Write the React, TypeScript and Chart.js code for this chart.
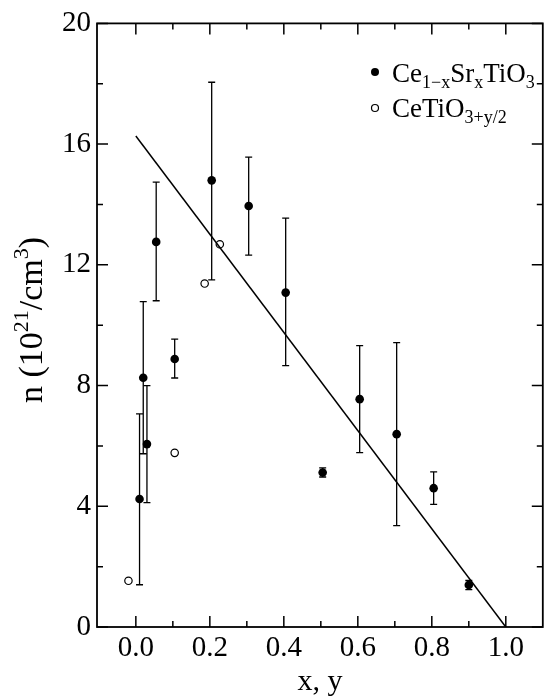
import React, { useEffect, useRef } from "react";
import { Chart, registerables } from "chart.js";

Chart.register(...registerables);

// Ce(1-x)Sr(x)TiO3 : filled circles with error bars
const SR_X = [0.01, 0.02, 0.03, 0.055, 0.105, 0.205, 0.305, 0.405, 0.505, 0.605, 0.705, 0.805, 0.9];
const SR_N = [4.24, 8.26, 6.06, 12.76, 8.88, 14.8, 13.95, 11.08, 5.12, 7.55, 6.39, 4.6, 1.39];
const SR_HI = [7.06, 10.78, 8.0, 14.74, 9.54, 18.05, 15.57, 13.55, 5.27, 9.32, 9.42, 5.14, 1.54];
const SR_LO = [1.4, 5.74, 4.12, 10.81, 8.25, 11.5, 12.32, 8.66, 4.97, 5.78, 3.36, 4.06, 1.24];

// CeTiO(3+y/2) : open circles
const OX_Y = [-0.02, 0.105, 0.186, 0.227];
const OX_N = [1.53, 5.77, 11.38, 12.68];

// linear fit
const FIT_X = [0, 1.0];
const FIT_N = [16.27, 0];

// axes
const X_TICKS = [0, 0.2, 0.4, 0.6, 0.8, 1.0];
const X_MINOR = [0.1, 0.3, 0.5, 0.7, 0.9];
const Y_TICKS = [0, 4, 8, 12, 16, 20];
const Y_MINOR = [2, 6, 10, 14, 18];
const X_MIN = -0.105;
const X_MAX = 1.1;
const Y_MIN = 0;
const Y_MAX = 20;

// rich texts: [text, kind] kind 0 normal, -1 subscript, 1 superscript
type Part = [string, number];
const LEGEND_1: Part[] = [["Ce", 0], ["1\u2212x", -1], ["Sr", 0], ["x", -1], ["TiO", 0], ["3", -1]];
const LEGEND_2: Part[] = [["CeTiO", 0], ["3+y/2", -1]];
const Y_TITLE: Part[] = [["n (10", 0], ["21", 1], ["/cm", 0], ["3", 1], [")", 0]];
const X_TITLE = "x, y";

const FAMILY = "'Liberation Serif', 'Times New Roman', serif";

function richWidth(ctx: CanvasRenderingContext2D, parts: Part[], size: number) {
  let w = 0;
  for (const [t, k] of parts) {
    ctx.font = `${k === 0 ? size : Math.round(size * 0.65)}px ${FAMILY}`;
    w += ctx.measureText(t).width;
  }
  return w;
}

function drawRich(ctx: CanvasRenderingContext2D, parts: Part[], x: number, y: number, size: number) {
  let cx = x;
  ctx.textBaseline = "alphabetic";
  ctx.textAlign = "left";
  for (const [t, k] of parts) {
    const s = k === 0 ? size : Math.round(size * 0.65);
    ctx.font = `${s}px ${FAMILY}`;
    const dy = k === -1 ? size * 0.22 : k === 1 ? -size * 0.4 : 0;
    ctx.fillText(t, cx, y + dy);
    cx += ctx.measureText(t).width;
  }
}

const framePlugin = {
  id: "frame",
  beforeDatasetsDraw(chart: any) {
    const ctx = chart.ctx as CanvasRenderingContext2D;
    const xs = chart.scales.x;
    const ys = chart.scales.y;
    ctx.save();
    ctx.strokeStyle = "#000";
    ctx.lineWidth = 1.3;
    for (let i = 0; i < SR_X.length; i++) {
      const px = xs.getPixelForValue(SR_X[i]);
      const top = ys.getPixelForValue(SR_HI[i]);
      const bot = ys.getPixelForValue(SR_LO[i]);
      ctx.beginPath();
      ctx.moveTo(px, top);
      ctx.lineTo(px, bot);
      ctx.moveTo(px - 3.5, top);
      ctx.lineTo(px + 3.5, top);
      ctx.moveTo(px - 3.5, bot);
      ctx.lineTo(px + 3.5, bot);
      ctx.stroke();
    }
    ctx.restore();
  },
  afterDraw(chart: any) {
    const ctx = chart.ctx as CanvasRenderingContext2D;
    const a = chart.chartArea;
    const xs = chart.scales.x;
    const ys = chart.scales.y;
    ctx.save();
    ctx.strokeStyle = "#000";
    ctx.fillStyle = "#000";
    ctx.lineWidth = 1.8;
    ctx.strokeRect(a.left, a.top, a.right - a.left, a.bottom - a.top);
    ctx.lineWidth = 1.5;
    ctx.beginPath();
    const xt = (v: number, len: number) => {
      const p = xs.getPixelForValue(v);
      ctx.moveTo(p, a.bottom);
      ctx.lineTo(p, a.bottom - len);
      ctx.moveTo(p, a.top);
      ctx.lineTo(p, a.top + len);
    };
    const yt = (v: number, len: number) => {
      const p = ys.getPixelForValue(v);
      ctx.moveTo(a.left, p);
      ctx.lineTo(a.left + len, p);
      ctx.moveTo(a.right, p);
      ctx.lineTo(a.right - len, p);
    };
    X_TICKS.forEach((v) => xt(v, 11));
    X_MINOR.forEach((v) => xt(v, 6));
    Y_TICKS.forEach((v) => yt(v, 11));
    Y_MINOR.forEach((v) => yt(v, 6));
    ctx.stroke();

    // legend
    const lx = 375;
    ctx.beginPath();
    ctx.arc(lx, 72, 4, 0, Math.PI * 2);
    ctx.fill();
    drawRich(ctx, LEGEND_1, 392, 82, 27);
    ctx.beginPath();
    ctx.lineWidth = 1.2;
    ctx.arc(lx, 108, 3.5, 0, Math.PI * 2);
    ctx.stroke();
    drawRich(ctx, LEGEND_2, 392, 117, 27);

    // x title
    ctx.font = `30px ${FAMILY}`;
    ctx.textAlign = "center";
    ctx.textBaseline = "alphabetic";
    ctx.fillText(X_TITLE, (a.left + a.right) / 2, 690);

    // y title
    ctx.save();
    ctx.translate(42, 320);
    ctx.rotate(-Math.PI / 2);
    const w = richWidth(ctx, Y_TITLE, 34);
    drawRich(ctx, Y_TITLE, -w / 2, 0, 34);
    ctx.restore();
    ctx.restore();
  },
};

export default function App() {
  const ref = useRef<HTMLCanvasElement>(null);
  useEffect(() => {
    const canvas = ref.current;
    if (!canvas) return;
    const chart = new Chart(canvas, {
      type: "scatter",
      data: {
        datasets: [
          {
            label: "fit",
            data: FIT_X.map((x, i) => ({ x, y: FIT_N[i] })),
            showLine: true,
            borderColor: "#000",
            borderWidth: 1.5,
            pointRadius: 0,
            fill: false,
          },
          {
            label: "Ce1-xSrxTiO3",
            data: SR_X.map((x, i) => ({ x, y: SR_N[i] })),
            pointRadius: 4.3,
            backgroundColor: "#000",
            borderColor: "#000",
            borderWidth: 0,
          },
          {
            label: "CeTiO3+y/2",
            data: OX_Y.map((x, i) => ({ x, y: OX_N[i] })),
            pointRadius: 3.7,
            backgroundColor: "#fff",
            borderColor: "#000",
            borderWidth: 1.2,
          },
        ],
      },
      options: {
        animation: false,
        responsive: false,
        events: [],
        layout: { padding: { top: 23, right: 2, left: 0, bottom: 0 } },
        plugins: { legend: { display: false }, tooltip: { enabled: false } },
        scales: {
          x: {
            type: "linear",
            min: X_MIN,
            max: X_MAX,
            grid: { display: false, drawTicks: false },
            border: { display: false },
            afterBuildTicks: (s: any) => {
              s.ticks = X_TICKS.map((v) => ({ value: v }));
            },
            afterFit: (s: any) => {
              s.height = 73;
            },
            ticks: {
              color: "#000",
              font: { family: FAMILY, size: 29 },
              padding: 4,
              maxRotation: 0,
              autoSkip: false,
              callback: (v: any) => Number(v).toFixed(1),
            },
          },
          y: {
            type: "linear",
            min: Y_MIN,
            max: Y_MAX,
            grid: { display: false, drawTicks: false },
            border: { display: false },
            afterBuildTicks: (s: any) => {
              s.ticks = Y_TICKS.map((v) => ({ value: v }));
            },
            afterFit: (s: any) => {
              s.width = 97;
            },
            ticks: {
              color: "#000",
              font: { family: FAMILY, size: 29 },
              padding: 6,
              autoSkip: false,
              callback: (v: any) => String(v),
            },
          },
        },
      },
      plugins: [framePlugin],
    });
    return () => chart.destroy();
  }, []);
  return (
    <div style={{ position: "absolute", left: 0, top: 0, width: 548, height: 700, background: "#fff" }}>
      <canvas ref={ref} width={548} height={700} style={{ display: "block" }} />
    </div>
  );
}
